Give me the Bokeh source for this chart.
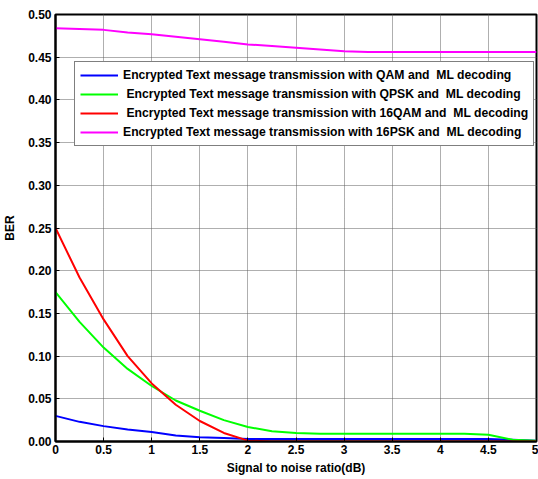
from bokeh.plotting import figure
from bokeh.models import FixedTicker, Legend, LegendItem
from bokeh.embed import file_html
from bokeh.resources import INLINE

snr = [0, 0.25, 0.5, 0.75, 1.0, 1.25, 1.5, 1.75, 2.0, 2.25, 2.5, 2.75, 3.0, 3.25, 3.5, 3.75, 4.0, 4.25, 4.5, 4.75, 5.0]
ber_qam = [0.030, 0.023, 0.018, 0.014, 0.011, 0.007, 0.005, 0.004, 0.003, 0.003, 0.003, 0.003, 0.003, 0.003, 0.003, 0.003, 0.003, 0.003, 0.003, 0.002, 0.001]
ber_qpsk = [0.175, 0.140, 0.110, 0.085, 0.065, 0.048, 0.036, 0.025, 0.017, 0.012, 0.010, 0.009, 0.009, 0.009, 0.009, 0.009, 0.009, 0.009, 0.008, 0.002, 0.001]
ber_16qam = [0.250, 0.192, 0.143, 0.100, 0.068, 0.043, 0.024, 0.010, 0.001, 0.0, 0.0, 0.0, 0.0, 0.0, 0.0, 0.0, 0.0, 0.0, 0.0, 0.0, 0.0]
ber_16psk = [0.484, 0.483, 0.482, 0.479, 0.477, 0.474, 0.471, 0.468, 0.465, 0.463, 0.461, 0.459, 0.457, 0.456, 0.456, 0.456, 0.456, 0.456, 0.456, 0.456, 0.456]

labels = [
    "Encrypted Text message transmission with QAM and  ML decoding",
    " Encrypted Text message transmission with QPSK and  ML decoding",
    " Encrypted Text message transmission with 16QAM and  ML decoding",
    "Encrypted Text message transmission with 16PSK and  ML decoding",
]
colors = ["#0000ff", "#00ff00", "#ff0000", "#ff00ff"]

x_ticks = [0, 0.5, 1, 1.5, 2, 2.5, 3, 3.5, 4, 4.5, 5]
x_tick_labels = ["0", "0.5", "1", "1.5", "2", "2.5", "3", "3.5", "4", "4.5", "5"]
y_ticks = [0.0, 0.05, 0.1, 0.15, 0.2, 0.25, 0.3, 0.35, 0.4, 0.45, 0.5]
y_tick_labels = ["0.00", "0.05", "0.10", "0.15", "0.20", "0.25", "0.30", "0.35", "0.40", "0.45", "0.50"]

p = figure(width=538, height=479, x_range=(0, 5), y_range=(0, 0.5),
           output_backend="svg", toolbar_location=None,
           min_border_left=55, min_border_right=2, min_border_top=14, min_border_bottom=38)

series = [ber_qam, ber_qpsk, ber_16qam, ber_16psk]
renderers = []
for ys, c in zip(series, colors):
    r = p.line(snr, ys, line_color=c, line_width=2)
    renderers.append(r)

font = "Liberation Sans"
for ax, ticks, labs in ((p.xaxis[0], x_ticks, x_tick_labels), (p.yaxis[0], y_ticks, y_tick_labels)):
    ax.ticker = FixedTicker(ticks=ticks)
    ax.major_label_overrides = {t: l for t, l in zip(ticks, labs)}
    ax.major_label_text_font = font
    ax.major_label_text_font_style = "bold"
    ax.major_label_text_font_size = "12px"
    ax.major_label_text_color = "black"
    ax.axis_label_text_font = font
    ax.axis_label_text_font_style = "bold"
    ax.axis_label_text_font_size = "12px"
    ax.axis_label_text_color = "black"
    ax.axis_line_width = 2
    ax.axis_line_color = "black"
    ax.major_tick_in = 4
    ax.major_tick_out = 0
    ax.minor_tick_line_color = None
    ax.major_tick_line_color = "black"

p.xaxis.axis_label = "Signal to noise ratio(dB)"
p.yaxis.axis_label = "BER"
p.xaxis.major_label_standoff = 3
p.yaxis.major_label_standoff = 4
p.xaxis.axis_label_standoff = 4
p.yaxis.axis_label_standoff = 8

p.grid.grid_line_color = "#5e5e5e"
p.grid.grid_line_dash = "1 1"
p.grid.grid_line_width = 1
p.outline_line_color = "black"
p.outline_line_width = 2
p.outline_line_alpha = 1

legend = Legend(items=[LegendItem(label=l, renderers=[r]) for l, r in zip(labels, renderers)],
                location=(19, 295))
legend.label_text_font = font
legend.label_text_font_style = "bold"
legend.label_text_font_size = "12.2px"
legend.label_text_color = "black"
legend.glyph_width = 38
legend.glyph_height = 16
legend.label_height = 16
legend.spacing = 3
legend.padding = 5
legend.margin = 0
legend.label_standoff = 5
legend.border_line_color = "black"
legend.border_line_width = 1.5
legend.background_fill_color = "white"
legend.background_fill_alpha = 1
p.add_layout(legend, "center")

open("out.html", "w").write(file_html(p, INLINE))
